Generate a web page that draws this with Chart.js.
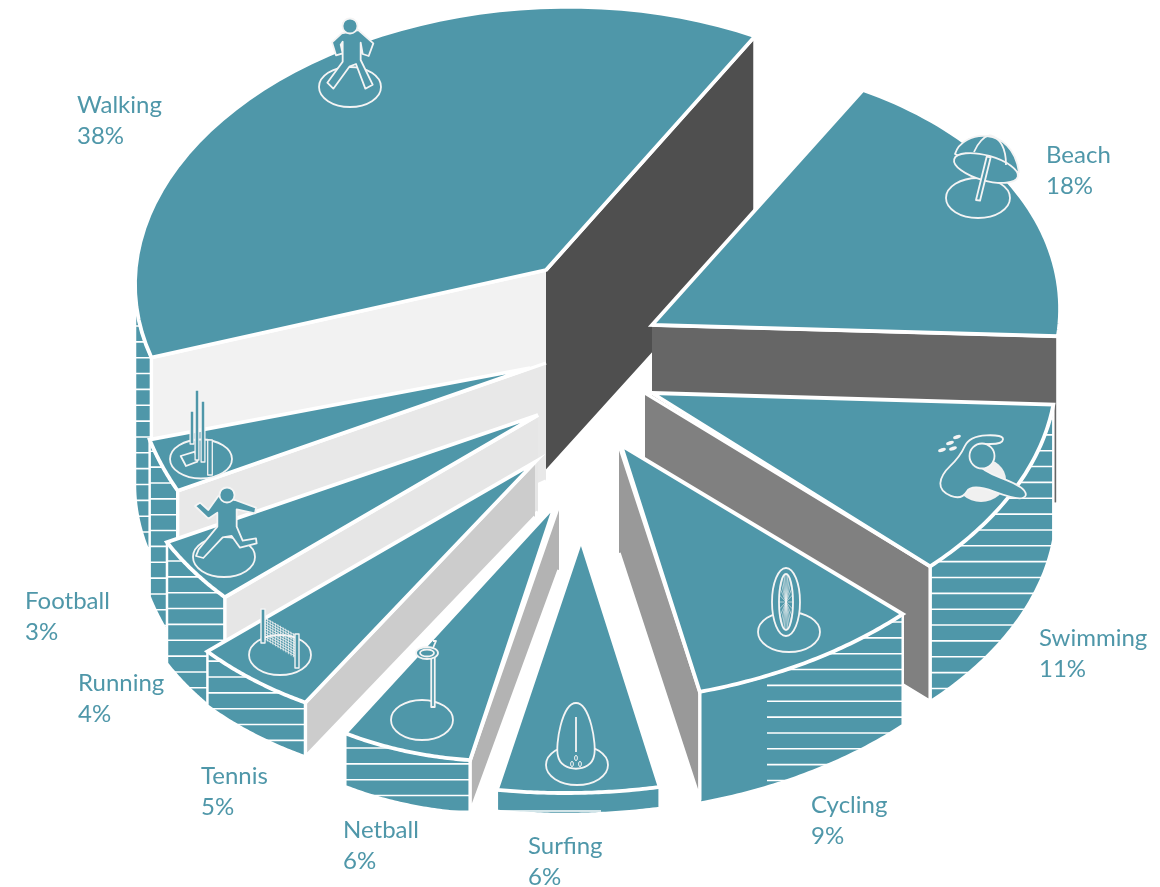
<!DOCTYPE html>
<html>
<head>
<meta charset="utf-8">
<title>Physical activity</title>
<script src="https://cdn.jsdelivr.net/npm/chart.js@4/dist/chart.umd.min.js"></script>
<style>
  html, body { margin: 0; padding: 0; background: #fff; }
  canvas { display: block; }
</style>
</head>
<body>
<canvas id="activityPie" width="1160" height="887"></canvas>
<script>
const categories = ['Beach', 'Swimming', 'Cycling', 'Surfing', 'Netball', 'Tennis', 'Running', 'Football', 'Walking'];
const shares = [18, 11, 9, 6, 6, 5, 4, 3, 38];

const TEAL = '#4f97a9';
const LINE = '#f4f4f4';
const HATCH_STEP = 15.85;

// back slices first, the front ones overlap them
const paintOrder = ['Walking', 'Beach', 'Swimming', 'Cycling', 'Football', 'Running', 'Tennis', 'Netball', 'Surfing'];

// apex = where the tip of the slice sits, m = [A, B, C, D] projection of the unit circle onto the page
const sliceLayout = {
  Walking: {
    apex: [546, 270], m: [411, -4, -12, 263],
    outer: { depth: 200, span: 0.123, hatch: 326 },
    walls: [
      { edge: 'start', color: '#f2f2f2', dIn: 202, dOut: 202 },
      { edge: 'end', color: '#4f4f4f', dIn: 202, dOut: 205 },
    ],
  },
  Beach: {
    apex: [652, 325], m: [408, -8, -11, 265],
    walls: [{ edge: 'end', color: '#666666', dIn: 168, dOut: 168 }],
  },
  Swimming: {
    apex: [652, 393], m: [404, -15, -10, 258],
    outer: { depth: 135, span: 1, hatch: 419 },
    walls: [{ edge: 'end', color: '#808080', dx: -7, dy: 0, dIn: 135, dOut: 135 }],
  },
  Cycling: {
    apex: [621, 445], m: [409, -15, -15, 257],
    outer: { depth: 111, span: 1, hatch: 622, minX: 767 },
    walls: [{ edge: 'end', color: '#999999', dx: -2, dy: 0, dIn: 108, dOut: 108 }],
  },
  Surfing: {
    apex: [581, 540], m: [434, -21, 3, 253],
    outer: { depth: 21, span: 1, hatch: 811, maxX: 601 },
    walls: [],
  },
  Netball: {
    apex: [555, 505], m: [364, -32, -13, 256],
    outer: { depth: 53, span: 1, hatch: 748 },
    walls: [{ edge: 'start', color: '#b3b3b3', dx: 4, dy: 0, dIn: 65, dOut: 53 }],
  },
  Tennis: {
    apex: [535, 462], m: [421, -22, -10, 272],
    outer: { depth: 54, span: 1, hatch: 677 },
    walls: [{ edge: 'start', color: '#cccccc', dIn: 55, dOut: 54 }],
  },
  Running: {
    apex: [538, 415], m: [415, -7, -3, 269],
    outer: { depth: 121, span: 1, hatch: 561 },
    walls: [{ edge: 'start', color: '#e6e6e6', dIn: 97, dOut: 121 }],
  },
  Football: {
    apex: [530, 368], m: [397, -1, 12, 288],
    outer: { depth: 157, span: 1, hatch: 483 },
    walls: [{ edge: 'start', color: '#e8e8e8', dx: 16, dy: -5, dIn: 118, dOut: 157 }],
  },
};

const labelAnchors = {
  Walking: [77, 113], Beach: [1046, 163], Swimming: [1039, 646], Cycling: [811, 813], Surfing: [528, 854],
  Netball: [343, 838], Tennis: [201, 784], Running: [78, 691], Football: [25, 609],
};

const facePoint = (s, angle) => [
  s.apex[0] + s.m[0] * Math.cos(angle) + s.m[1] * Math.sin(angle),
  s.apex[1] + s.m[2] * Math.cos(angle) + s.m[3] * Math.sin(angle),
];

const tracePoints = (ctx, pts, open) => {
  ctx.beginPath();
  pts.forEach((p, i) => (i ? ctx.lineTo(p[0], p[1]) : ctx.moveTo(p[0], p[1])));
  if (!open) ctx.closePath();
};

// same outline, corners rounded off through the midpoints
const traceSmooth = (ctx, pts) => {
  const mid = (a, b) => [(a[0] + b[0]) / 2, (a[1] + b[1]) / 2];
  const first = mid(pts[pts.length - 1], pts[0]);
  ctx.beginPath();
  ctx.moveTo(first[0], first[1]);
  pts.forEach((p, i) => {
    const m = mid(p, pts[(i + 1) % pts.length]);
    ctx.quadraticCurveTo(p[0], p[1], m[0], m[1]);
  });
  ctx.closePath();
};

const sampleArc = (s, from, to) => {
  const pts = [];
  for (let i = 0; i <= 48; i += 1) pts.push(facePoint(s, from + ((to - from) * i) / 48));
  return pts;
};

/** hatched rim on the outside of a slice */
const drawOuterWall = (ctx, s, arc) => {
  const o = s.outer;
  if (!o) return;
  const to = arc.startAngle + (arc.endAngle - arc.startAngle) * o.span;
  const top = sampleArc(s, arc.startAngle, to);
  const bottom = top.map((p) => [p[0], p[1] + o.depth]).reverse();
  const pts = top.concat(bottom);
  tracePoints(ctx, pts);
  ctx.fillStyle = TEAL;
  ctx.fill();
  ctx.save();
  ctx.clip();
  const ys = pts.map((p) => p[1]);
  const xs = pts.map((p) => p[0]);
  const minY = Math.min(...ys);
  const maxY = Math.max(...ys);
  const x0 = o.minX || Math.min(...xs);
  const x1 = o.maxX || Math.max(...xs);
  ctx.strokeStyle = '#fff';
  ctx.lineWidth = 1.6;
  for (let y = o.hatch - Math.ceil((o.hatch - minY) / HATCH_STEP) * HATCH_STEP; y < maxY; y += HATCH_STEP) {
    if (!o.maxX || y >= o.hatch) {
      ctx.beginPath();
      ctx.moveTo(x0, y);
      ctx.lineTo(x1, y);
      ctx.stroke();
    }
  }
  ctx.restore();
  tracePoints(ctx, pts);
  ctx.strokeStyle = '#fff';
  ctx.lineWidth = 2.5;
  ctx.stroke();
};

/** flat grey wall along one cut edge */
const drawCutWall = (ctx, s, arc, w) => {
  const edge = facePoint(s, w.edge === 'start' ? arc.startAngle : arc.endAngle);
  const inner = [s.apex[0] + (w.dx || 0), s.apex[1] + (w.dy || 0)];
  const pts = [inner, edge, [edge[0], edge[1] + w.dOut], [inner[0], inner[1] + w.dIn]];
  tracePoints(ctx, pts);
  ctx.fillStyle = w.color;
  ctx.fill();
  // no line on the inner end, the walls butt up against each other there
  tracePoints(ctx, pts, true);
  ctx.strokeStyle = '#fff';
  ctx.lineWidth = 3.4;
  ctx.stroke();
};

/** top face: the library's own arc, pushed through the slice projection */
const drawFace = (ctx, s, arc) => {
  const r = arc.outerRadius;
  const [A, B, C, D] = s.m;
  const a = A / r;
  const b = C / r;
  const c = B / r;
  const d = D / r;
  ctx.save();
  ctx.transform(a, b, c, d, s.apex[0] - a * arc.x - c * arc.y, s.apex[1] - b * arc.x - d * arc.y);
  arc.draw(ctx);
  ctx.restore();
  tracePoints(ctx, [s.apex].concat(sampleArc(s, arc.startAngle, arc.endAngle)));
  ctx.strokeStyle = '#fff';
  ctx.lineWidth = 3.8;
  ctx.lineJoin = 'miter';
  ctx.stroke();
};

// ---- little pictograms standing on each slice ----
const zoomed = (pts, ox, oy) => pts.map((p) => [ox + p[0] / 3, oy + p[1] / 3]);

const baseEllipse = (ctx, x, y, rx = 31, ry = 20) => {
  ctx.beginPath();
  ctx.ellipse(x, y, rx, ry, 0, 0, Math.PI * 2);
  ctx.stroke();
};

const figure = (ctx, pts) => {
  tracePoints(ctx, pts);
  ctx.fillStyle = TEAL;
  ctx.fill();
  ctx.stroke();
};

const disc = (ctx, x, y, rx, ry = rx, fill = TEAL, rot = 0) => {
  ctx.beginPath();
  ctx.ellipse(x, y, rx, ry, rot, 0, Math.PI * 2);
  ctx.fillStyle = fill;
  ctx.fill();
  ctx.stroke();
};

const post = (ctx, x, y0, y1, w) => {
  ctx.beginPath();
  ctx.rect(x - w / 2, y0, w, y1 - y0);
  ctx.fillStyle = TEAL;
  ctx.fill();
  ctx.stroke();
};

const icons = {
  Walking(ctx) {
    baseEllipse(ctx, 350, 87);
    figure(ctx, zoomed([[125, 70], [96, 97], [108, 136], [128, 130], [122, 104], [128, 95], [128, 155], [82, 218], [100, 236], [148, 170], [168, 162], [196, 236], [218, 224], [182, 150], [182, 98], [188, 132], [206, 138], [220, 100], [175, 60]], 300, 10));
    disc(ctx, 350, 26, 7.5);
  },
  Beach(ctx) {
    baseEllipse(ctx, 978, 198, 32, 20);
    ctx.beginPath();
    ctx.moveTo(955, 154);
    ctx.bezierCurveTo(962, 130, 1012, 124, 1019, 172);
    ctx.lineTo(986, 170);
    ctx.closePath();
    ctx.fillStyle = TEAL;
    ctx.fill();
    ctx.stroke();
    disc(ctx, 986, 168, 33, 12.5, TEAL, 0.27);
    ctx.beginPath();
    ctx.moveTo(974, 152);
    ctx.quadraticCurveTo(980, 138, 990, 135);
    ctx.moveTo(990, 135);
    ctx.quadraticCurveTo(1006, 140, 1006, 165);
    ctx.stroke();
    tracePoints(ctx, zoomed([[170, 110], [182, 112], [150, 242], [138, 240]], 930, 120));
    ctx.fillStyle = TEAL;
    ctx.fill();
    ctx.stroke();
  },
  Swimming(ctx) {
    ctx.beginPath();
    ctx.ellipse(981, 480, 25, 22, 0, 0, Math.PI * 2);
    ctx.fillStyle = '#f0f0f0';
    ctx.fill();
    traceSmooth(ctx, zoomed([[250, 44], [248, 72], [175, 72], [150, 100], [185, 152], [300, 195], [325, 228], [290, 240], [155, 190], [125, 240], [60, 215], [62, 165], [120, 110], [148, 48]], 920, 420));
    ctx.fillStyle = TEAL;
    ctx.fill();
    ctx.stroke();
    disc(ctx, 982, 456, 12.5);
    ctx.fillStyle = LINE;
    [[942, 450], [950, 443], [957, 437], [953, 448.5]].forEach((p) => {
      ctx.beginPath();
      ctx.ellipse(p[0], p[1], 4, 1.8, -0.3, 0, Math.PI * 2);
      ctx.fill();
    });
  },
  Cycling(ctx) {
    baseEllipse(ctx, 789, 632);
    disc(ctx, 786, 602, 14, 34);
    disc(ctx, 786, 602, 7, 28);
    ctx.save();
    ctx.lineWidth = 0.6;
    for (let i = 0; i < 24; i += 1) {
      const t = (i / 24) * Math.PI * 2;
      ctx.beginPath();
      ctx.moveTo(786, 602);
      ctx.lineTo(786 + 7 * Math.cos(t), 602 + 28 * Math.sin(t));
      ctx.stroke();
    }
    ctx.restore();
  },
  Surfing(ctx) {
    baseEllipse(ctx, 577, 765);
    ctx.beginPath();
    ctx.moveTo(576, 703);
    ctx.bezierCurveTo(590, 703, 597, 745, 594, 756);
    ctx.bezierCurveTo(591, 773, 561, 773, 558, 756);
    ctx.bezierCurveTo(555, 745, 562, 703, 576, 703);
    ctx.fillStyle = TEAL;
    ctx.fill();
    ctx.stroke();
    ctx.beginPath();
    ctx.moveTo(576, 717);
    ctx.lineTo(576, 752);
    ctx.stroke();
    ctx.save();
    ctx.lineWidth = 1;
    disc(ctx, 576, 758, 1.4, 2.6);
    disc(ctx, 572, 764, 1.4, 2.6);
    disc(ctx, 580, 764, 1.4, 2.6);
    ctx.restore();
  },
  Netball(ctx) {
    baseEllipse(ctx, 422, 720);
    post(ctx, 433, 652, 707, 3.5);
    disc(ctx, 427, 653, 11, 6);
    disc(ctx, 427, 653, 7, 3.5);
    ctx.beginPath();
    ctx.moveTo(433, 641);
    ctx.lineTo(436, 641);
    ctx.lineTo(433, 648);
    ctx.stroke();
  },
  Tennis(ctx) {
    baseEllipse(ctx, 280, 655);
    const net = [[265, 617], [295, 634], [295, 658], [265, 640]];
    ctx.save();
    tracePoints(ctx, net);
    ctx.clip();
    ctx.lineWidth = 0.8;
    for (let x = 265; x < 296; x += 2.6) {
      ctx.beginPath();
      ctx.moveTo(x, 610);
      ctx.lineTo(x, 665);
      ctx.stroke();
    }
    for (let y = 600; y < 660; y += 2.6) {
      ctx.beginPath();
      ctx.moveTo(265, y);
      ctx.lineTo(295, y + 17);
      ctx.stroke();
    }
    ctx.restore();
    ctx.save();
    ctx.lineWidth = 1.4;
    post(ctx, 263, 609, 643, 4);
    post(ctx, 297, 634, 668, 4);
    ctx.restore();
  },
  Running(ctx) {
    baseEllipse(ctx, 224, 557);
    figure(ctx, zoomed([[105, 378], [120, 368], [145, 390], [175, 348], [225, 360], [288, 383], [285, 400], [230, 388], [230, 440], [248, 482], [288, 475], [290, 490], [240, 503], [215, 468], [188, 472], [130, 534], [108, 528], [116, 508], [172, 440], [172, 398], [145, 416]], 160, 380));
    disc(ctx, 227, 495, 7.5);
  },
  Football(ctx) {
    baseEllipse(ctx, 201, 459, 31, 19.5);
    tracePoints(ctx, zoomed([[62, 228], [105, 215], [112, 245], [78, 258]], 160, 380));
    ctx.stroke();
    ctx.save();
    ctx.lineWidth = 1.3;
    post(ctx, 192, 411, 444, 3.8);
    post(ctx, 197, 390, 460, 3.8);
    post(ctx, 203, 401, 462, 3.8);
    post(ctx, 210, 440, 475, 4.6);
    ctx.restore();
  },
};

const stackedPie = {
  id: 'stackedPie',
  beforeDatasetDraw(chart) {
    const { ctx } = chart;
    const arcs = chart.getDatasetMeta(0).data;
    ctx.save();
    ctx.lineJoin = 'round';
    paintOrder.forEach((name) => {
      const s = sliceLayout[name];
      const arc = arcs[categories.indexOf(name)];
      ctx.lineJoin = 'round';
      drawOuterWall(ctx, s, arc);
      s.walls.forEach((w) => drawCutWall(ctx, s, arc, w));
      drawFace(ctx, s, arc);
    });
    // pictograms
    ctx.strokeStyle = LINE;
    ctx.lineWidth = 1.8;
    ctx.lineJoin = 'round';
    categories.forEach((name) => icons[name](ctx));
    // labels, name over share
    ctx.font = '24px Lato';
    ctx.fillStyle = TEAL;
    ctx.textAlign = 'left';
    ctx.textBaseline = 'alphabetic';
    categories.forEach((name, i) => {
      const [x, y] = labelAnchors[name];
      ctx.fillText(name, x, y);
      ctx.fillText(`${shares[i]}%`, x, y + 31);
    });
    ctx.restore();
    return false;
  },
};

const config = {
  type: 'pie',
  data: {
    labels: categories,
    datasets: [{
      data: shares,
      backgroundColor: TEAL,
      borderWidth: 0,
    }],
  },
  options: {
    responsive: false,
    animation: false,
    rotation: 30,
    events: [],
    plugins: {
      legend: { display: false },
      tooltip: { enabled: false },
    },
  },
  plugins: [stackedPie],
};

document.fonts.load('24px Lato').finally(() => {
  new Chart(document.getElementById('activityPie'), config);
});
</script>
</body>
</html>
